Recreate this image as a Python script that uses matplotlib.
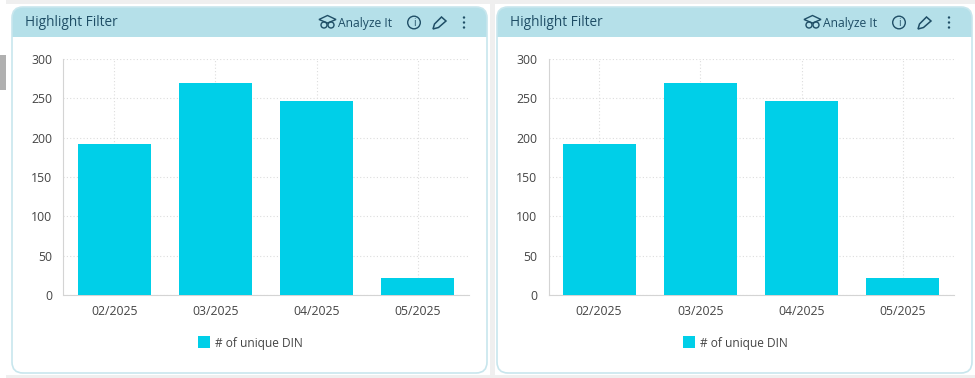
import matplotlib
matplotlib.use('Agg')
import matplotlib.pyplot as plt
from matplotlib.patches import FancyBboxPatch, Rectangle, Circle, Polygon

plt.rcParams['font.family'] = ['Open Sans', 'DejaVu Sans']

# Данные
months = ['02/2025', '03/2025', '04/2025', '05/2025']
din_counts = [192, 270, 247, 22]
y_ticks = [0, 50, 100, 150, 200, 250, 300]
panel_title = 'Highlight Filter'
button_label = 'Analyze It'
legend_label = '# of unique DIN'

BAR = '#00cfe8'
HEADER = '#b5e0e9'
INK = '#1f4e66'
TEXT = '#444444'
STRIP = '#efefef'
W, H = 975, 378

fig = plt.figure(figsize=(W / 100, H / 100), dpi=100, facecolor='white')
bg = fig.add_axes([0, 0, 1, 1])
bg.set_xlim(0, W)
bg.set_ylim(H, 0)
bg.axis('off')

# серые полосы фона
bg.add_patch(Rectangle((6, 0), W - 6, 4, color=STRIP, lw=0))
bg.add_patch(Rectangle((6, 375), W - 6, 3, color=STRIP, lw=0))
bg.add_patch(Rectangle((490, 0), 5, H, color=STRIP, lw=0))
# ручка слева
bg.add_patch(Rectangle((0, 55), 6, 35, color='#b0b0b0', lw=0))


def icons(x):
    # сова в шапочке
    bg.add_patch(Polygon([(x + 1, 19.5), (x + 9.5, 15.5), (x + 18, 19.5), (x + 9.5, 23)],
                         closed=True, fc='none', ec=INK, lw=1))
    bg.add_patch(Circle((x + 6, 25), 3, fc='none', ec=INK, lw=1))
    bg.add_patch(Circle((x + 13, 25), 3, fc='none', ec=INK, lw=1))
    bg.text(x + 20, 23, button_label, fontsize=8.7, color=INK, va='center', ha='left')
    # инфо
    bg.add_patch(Circle((x + 96, 22.5), 6.3, fc='none', ec=INK, lw=1))
    bg.text(x + 96, 23, 'i', fontsize=7, color=INK, va='center', ha='center')
    # карандаш
    bg.add_patch(Polygon([(x + 115, 29), (x + 116.5, 24), (x + 123.5, 17),
                          (x + 128, 21), (x + 120.5, 27.5)],
                         closed=True, fc='none', ec=INK, lw=1.1))
    # три точки
    for dy in (17.5, 22.5, 27.5):
        bg.add_patch(Circle((x + 146, dy), 1.2, fc=INK, ec='none'))


def panel(px, pw, plot_left, plot_w):
    top, bottom = 7, 373
    bg.add_patch(FancyBboxPatch((px, top), pw, bottom - top,
                                boxstyle='round,pad=0,rounding_size=11',
                                fc=HEADER, ec='none'))
    bg.add_patch(FancyBboxPatch((px, 25), pw, bottom - 25,
                                boxstyle='round,pad=0,rounding_size=11',
                                fc='white', ec='none'))
    bg.add_patch(Rectangle((px, 22), pw, 15, fc=HEADER, ec='none'))
    bg.add_patch(FancyBboxPatch((px, top), pw, bottom - top,
                                boxstyle='round,pad=0,rounding_size=11',
                                fc='none', ec='#c8e6ed', lw=1.2))
    bg.text(px + 13, 23, panel_title, fontsize=9.8, color=INK, va='center', ha='left')
    icons(px + 306)

    ax = fig.add_axes([plot_left / W, 1 - 295 / H, plot_w / W, 236 / H])
    ax.patch.set_alpha(0)
    x = range(len(months))
    ax.bar(x, din_counts, width=0.72, color=BAR, zorder=3)
    ax.set_xlim(-0.5, 3.5)
    ax.set_ylim(0, 300)
    ax.set_xticks(list(x))
    ax.set_xticklabels(months)
    ax.set_yticks(y_ticks)
    ax.tick_params(length=0, labelsize=8.8, labelcolor=TEXT)
    ax.tick_params(axis='x', pad=7)
    ax.tick_params(axis='y', pad=8)
    ax.grid(color='#dddddd', linestyle=(0, (1, 2)), linewidth=0.8, zorder=0)
    for s in ('top', 'right'):
        ax.spines[s].set_visible(False)
    for s in ('left', 'bottom'):
        ax.spines[s].set_color('#d4d4d4')

    # легенда
    bg.add_patch(Rectangle((px + 186, 336), 12, 12, fc=BAR, ec='none'))
    bg.text(px + 203, 343, legend_label, fontsize=8.6, color=TEXT, va='center', ha='left')


panel(12, 475, 63.5, 405)
panel(497, 475, 548.5, 405)

fig.savefig('out.png', dpi=100, facecolor=fig.get_facecolor())
